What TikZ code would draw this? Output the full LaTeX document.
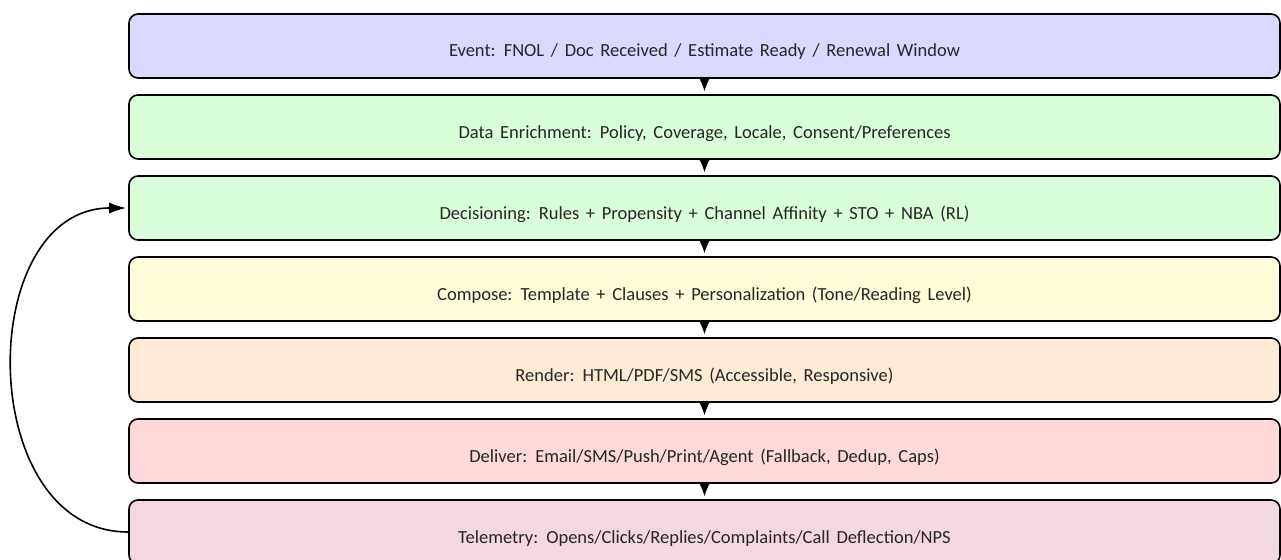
\documentclass[tikz,border=0pt]{standalone}
\usepackage{fontspec}
\setmainfont[WordSpace=1.6]{Carlito}
\usetikzlibrary{arrows.meta}
\definecolor{cEvent}{RGB}{217,217,255}
\definecolor{cEnrich}{RGB}{217,255,217}
\definecolor{cDecide}{RGB}{217,255,217}
\definecolor{cCompose}{RGB}{255,252,217}
\definecolor{cRender}{RGB}{255,234,214}
\definecolor{cDeliver}{RGB}{255,217,217}
\definecolor{cTele}{RGB}{243,216,226}
\tikzset{
  stage/.style={draw=black, line width=1.6pt, rounded corners=9pt,
    minimum width=1151pt, minimum height=64pt, inner sep=0pt,
    text height=22pt, text depth=0pt,
    font=\fontsize{18.5}{22}\selectfont, text=black!85},
  flow/.style={line width=1.4pt, -{Latex[length=14pt,width=12pt]}, shorten >=3pt},
  loop/.style={line width=1.6pt, -{Latex[length=17pt,width=11pt]}, shorten >=2pt},
}
\begin{document}
\begin{tikzpicture}[x=1pt,y=-1pt]
\useasboundingbox (0,0) rectangle (1281,559);
\begin{scope}
\clip (0,0) rectangle (1281,559);
\node[stage, fill=cEvent]   (ev)  at (704.5,46)  {Event: FNOL / Doc Received / Estimate Ready / Renewal Window};
\node[stage, fill=cEnrich]  (en)  at (704.5,127) {Data Enrichment: Policy, Coverage, Locale, Consent/Preferences};
\node[stage, fill=cDecide]  (de)  at (704.5,208) {Decisioning: Rules + Propensity + Channel Affinity + STO + NBA (RL)};
\node[stage, fill=cCompose] (co)  at (704.5,289) {Compose: Template + Clauses + Personalization (Tone/Reading Level)};
\node[stage, fill=cRender]  (re)  at (704.5,370) {Render: HTML/PDF/SMS (Accessible, Responsive)};
\node[stage, fill=cDeliver] (dl)  at (704.5,451) {Deliver: Email/SMS/Push/Print/Agent (Fallback, Dedup, Caps)};
\node[stage, fill=cTele]    (te)  at (704.5,532) {Telemetry: Opens/Clicks/Replies/Complaints/Call Deflection/NPS};
\draw[flow] (ev.south) -- (en.north);
\draw[flow] (en.south) -- (de.north);
\draw[flow] (de.south) -- (co.north);
\draw[flow] (co.south) -- (re.north);
\draw[flow] (re.south) -- (dl.north);
\draw[flow] (dl.south) -- (te.north);
\draw[loop] (te.west) to[out=180,in=180,looseness=1.22] (de.west);
\end{scope}
\end{tikzpicture}
\end{document}
